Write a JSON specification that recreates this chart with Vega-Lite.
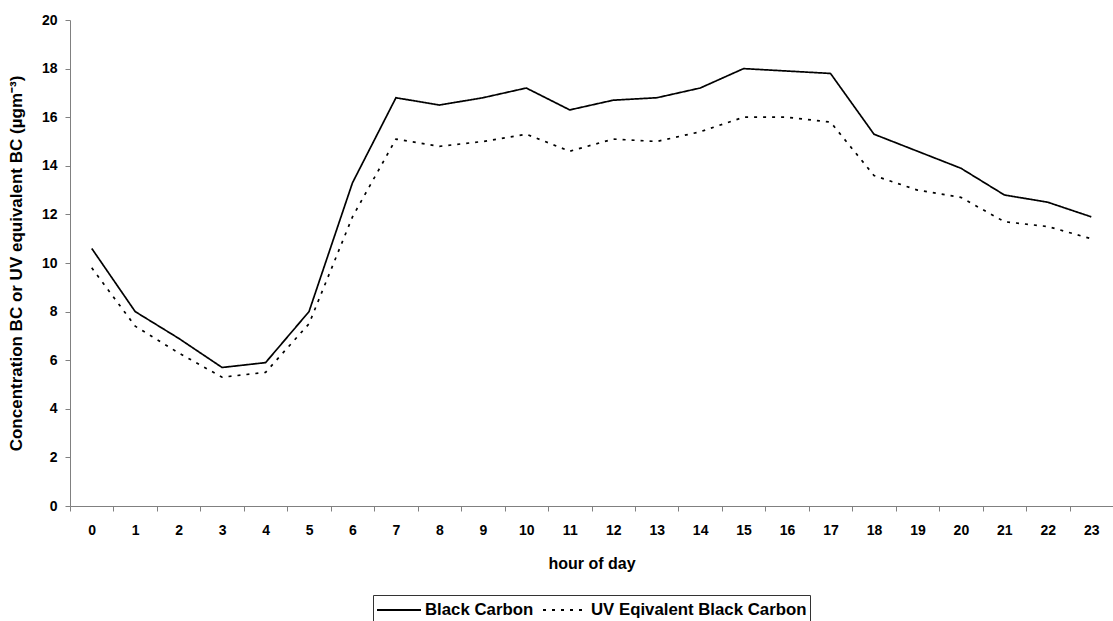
{
  "$schema": "https://vega.github.io/schema/vega-lite/v6.json",
  "width": 1043,
  "height": 486,
  "autosize": {"type": "none"},
  "padding": {"left": 70, "top": 20, "right": 0, "bottom": 115},
  "background": "white",
  "config": {
    "view": {"stroke": null},
    "font": "Liberation Sans",
    "axis": {
      "domainColor": "#808080",
      "tickColor": "#808080",
      "tickSize": 5,
      "labelFont": "Liberation Sans",
      "labelFontWeight": "bold",
      "labelFontSize": 14,
      "labelColor": "black",
      "titleFont": "Liberation Sans",
      "titleFontWeight": "bold",
      "titleFontSize": 16,
      "titleColor": "black",
      "grid": false
    }
  },
  "data": {
    "values": [
      {"hour": 0, "series": "Black Carbon", "value": 10.6},
      {"hour": 1, "series": "Black Carbon", "value": 8.0},
      {"hour": 2, "series": "Black Carbon", "value": 6.9},
      {"hour": 3, "series": "Black Carbon", "value": 5.7},
      {"hour": 4, "series": "Black Carbon", "value": 5.9},
      {"hour": 5, "series": "Black Carbon", "value": 8.0},
      {"hour": 6, "series": "Black Carbon", "value": 13.3},
      {"hour": 7, "series": "Black Carbon", "value": 16.8},
      {"hour": 8, "series": "Black Carbon", "value": 16.5},
      {"hour": 9, "series": "Black Carbon", "value": 16.8},
      {"hour": 10, "series": "Black Carbon", "value": 17.2},
      {"hour": 11, "series": "Black Carbon", "value": 16.3},
      {"hour": 12, "series": "Black Carbon", "value": 16.7},
      {"hour": 13, "series": "Black Carbon", "value": 16.8},
      {"hour": 14, "series": "Black Carbon", "value": 17.2},
      {"hour": 15, "series": "Black Carbon", "value": 18.0},
      {"hour": 16, "series": "Black Carbon", "value": 17.9},
      {"hour": 17, "series": "Black Carbon", "value": 17.8},
      {"hour": 18, "series": "Black Carbon", "value": 15.3},
      {"hour": 19, "series": "Black Carbon", "value": 14.6},
      {"hour": 20, "series": "Black Carbon", "value": 13.9},
      {"hour": 21, "series": "Black Carbon", "value": 12.8},
      {"hour": 22, "series": "Black Carbon", "value": 12.5},
      {"hour": 23, "series": "Black Carbon", "value": 11.9},
      {"hour": 0, "series": "UV Eqivalent Black Carbon", "value": 9.8},
      {"hour": 1, "series": "UV Eqivalent Black Carbon", "value": 7.4},
      {"hour": 2, "series": "UV Eqivalent Black Carbon", "value": 6.3},
      {"hour": 3, "series": "UV Eqivalent Black Carbon", "value": 5.3},
      {"hour": 4, "series": "UV Eqivalent Black Carbon", "value": 5.5},
      {"hour": 5, "series": "UV Eqivalent Black Carbon", "value": 7.5},
      {"hour": 6, "series": "UV Eqivalent Black Carbon", "value": 11.9},
      {"hour": 7, "series": "UV Eqivalent Black Carbon", "value": 15.1},
      {"hour": 8, "series": "UV Eqivalent Black Carbon", "value": 14.8},
      {"hour": 9, "series": "UV Eqivalent Black Carbon", "value": 15.0},
      {"hour": 10, "series": "UV Eqivalent Black Carbon", "value": 15.3},
      {"hour": 11, "series": "UV Eqivalent Black Carbon", "value": 14.6},
      {"hour": 12, "series": "UV Eqivalent Black Carbon", "value": 15.1},
      {"hour": 13, "series": "UV Eqivalent Black Carbon", "value": 15.0},
      {"hour": 14, "series": "UV Eqivalent Black Carbon", "value": 15.4},
      {"hour": 15, "series": "UV Eqivalent Black Carbon", "value": 16.0},
      {"hour": 16, "series": "UV Eqivalent Black Carbon", "value": 16.0},
      {"hour": 17, "series": "UV Eqivalent Black Carbon", "value": 15.8},
      {"hour": 18, "series": "UV Eqivalent Black Carbon", "value": 13.6},
      {"hour": 19, "series": "UV Eqivalent Black Carbon", "value": 13.0},
      {"hour": 20, "series": "UV Eqivalent Black Carbon", "value": 12.7},
      {"hour": 21, "series": "UV Eqivalent Black Carbon", "value": 11.7},
      {"hour": 22, "series": "UV Eqivalent Black Carbon", "value": 11.5},
      {"hour": 23, "series": "UV Eqivalent Black Carbon", "value": 11.0}
    ]
  },
  "mark": {"type": "line", "color": "black", "strokeWidth": 1.7},
  "encoding": {
    "x": {
      "field": "hour",
      "type": "ordinal",
      "scale": {"type": "band", "paddingInner": 0, "paddingOuter": 0},
      "axis": {
        "title": "hour of day",
        "labelAngle": 0,
        "tickBand": "extent",
        "labelPadding": 12,
        "titlePadding": 18
      }
    },
    "y": {
      "field": "value",
      "type": "quantitative",
      "scale": {"domain": [0, 20]},
      "axis": {
        "title": "Concentration BC or UV equivalent BC (µgm⁻³)",
        "values": [0, 2, 4, 6, 8, 10, 12, 14, 16, 18, 20],
        "labelPadding": 8,
        "titlePadding": 16,
        "titleFontSize": 17
      }
    },
    "strokeDash": {
      "field": "series",
      "type": "nominal",
      "scale": {
        "domain": ["Black Carbon", "UV Eqivalent Black Carbon"],
        "range": [[1, 0], [3, 6]]
      },
      "legend": {
        "title": null,
        "orient": "none",
        "legendX": 303,
        "legendY": 575,
        "direction": "horizontal",
        "strokeColor": "#333333",
        "padding": 3,
        "symbolType": "M-2,0H2",
        "symbolSize": 484,
        "symbolStrokeWidth": 2,
        "symbolStrokeColor": "black",
        "symbolOffset": 11,
        "labelOffset": 14,
        "labelFontWeight": "bold",
        "labelFontSize": 16.8,
        "labelColor": "black",
        "labelLimit": 300,
        "columnPadding": 5
      }
    }
  }
}
